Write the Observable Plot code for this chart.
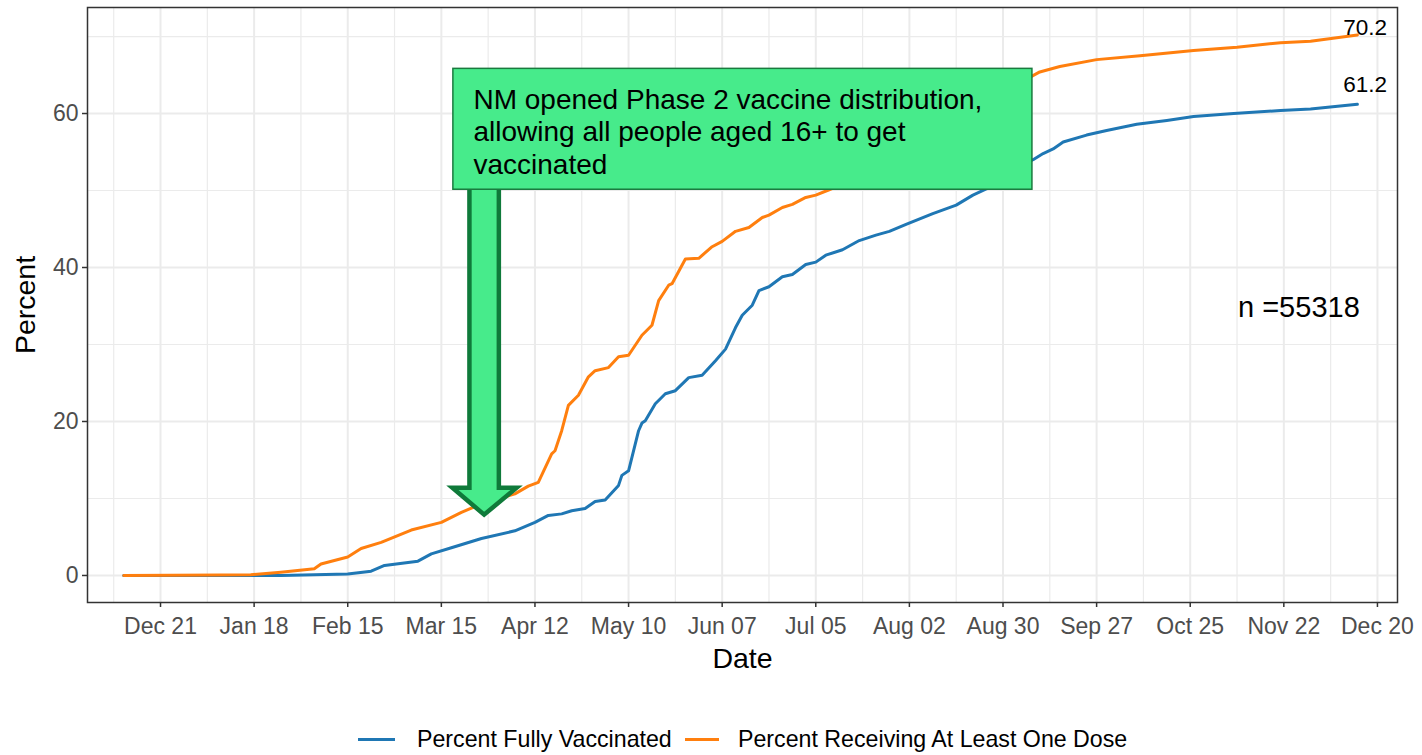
<!DOCTYPE html>
<html>
<head>
<meta charset="utf-8">
<script src="https://cdn.jsdelivr.net/npm/d3@7"></script>
<script src="https://cdn.jsdelivr.net/npm/@observablehq/plot@0.6"></script>
<style>
  body { margin: 0; background: #fff; font-family: "Liberation Sans", Arial, sans-serif; }
  #wrap { position: relative; width: 1422px; }
  #legend { position: relative; width: 1422px; height: 50px; }
  #legend .key { position: absolute; height: 3px; top: 32.5px; }
  #legend .lab { position: absolute; top: 22px; font-size: 23.2px; line-height: 24px; color: #000; white-space: nowrap; }
</style>
</head>
<body>
<div id="wrap"><div id="chart"></div><div id="legend"></div></div>
<script>
// ---------- data ----------
const seriesNames = ["Percent Fully Vaccinated", "Percent Receiving At Least One Dose"];
const seriesColors = ["#1f77b4", "#ff7f0e"];

const fullyDates = [
  "2020-12-10","2021-01-26","2021-02-15","2021-02-22","2021-02-26","2021-03-08","2021-03-12","2021-03-18",
  "2021-03-27","2021-04-06","2021-04-12","2021-04-16","2021-04-20","2021-04-23","2021-04-27","2021-04-30",
  "2021-05-03","2021-05-07","2021-05-08","2021-05-10","2021-05-13","2021-05-14","2021-05-15","2021-05-18",
  "2021-05-21","2021-05-24","2021-05-28","2021-06-01","2021-06-05","2021-06-08","2021-06-11","2021-06-13",
  "2021-06-16","2021-06-18","2021-06-21","2021-06-25","2021-06-28","2021-07-02","2021-07-05","2021-07-08",
  "2021-07-13","2021-07-18","2021-07-23","2021-07-27","2021-08-01","2021-08-09","2021-08-16","2021-08-21",
  "2021-08-25","2021-08-31","2021-09-04","2021-09-08","2021-09-11","2021-09-14","2021-09-17","2021-09-24",
  "2021-09-30","2021-10-09","2021-10-18","2021-10-26","2021-11-07","2021-11-21","2021-11-30","2021-12-14"
];
const fullyValues = [
  0, 0, 0.2, 0.56, 1.3, 1.86, 2.8, 3.6,
  4.8, 5.8, 6.9, 7.8, 8.0, 8.4, 8.7, 9.6,
  9.8, 11.7, 13.0, 13.6, 18.8, 19.8, 20.1, 22.3,
  23.6, 24.0, 25.7, 26.0, 27.9, 29.4, 32.2, 33.8,
  35.1, 37.0, 37.5, 38.8, 39.1, 40.4, 40.7, 41.6,
  42.3, 43.5, 44.2, 44.7, 45.6, 47.0, 48.1, 49.4,
  50.2, 52.0, 53.2, 54.0, 54.8, 55.4, 56.3, 57.2,
  57.8, 58.6, 59.1, 59.6, 60.0, 60.4, 60.6, 61.2
];

const oneDoseDates = [
  "2020-12-10","2021-01-08","2021-01-17","2021-01-26","2021-02-05","2021-02-07","2021-02-15","2021-02-19",
  "2021-02-25","2021-03-06","2021-03-15","2021-03-21","2021-03-27","2021-04-06","2021-04-10","2021-04-13",
  "2021-04-17","2021-04-18","2021-04-20","2021-04-22","2021-04-25","2021-04-28","2021-04-30","2021-05-04",
  "2021-05-07","2021-05-10","2021-05-14","2021-05-17","2021-05-19","2021-05-22","2021-05-23","2021-05-27",
  "2021-05-31","2021-06-04","2021-06-07","2021-06-11","2021-06-15","2021-06-19","2021-06-21","2021-06-25",
  "2021-06-28","2021-07-02","2021-07-05","2021-07-09","2021-07-22","2021-08-05","2021-08-20","2021-08-31",
  "2021-09-07","2021-09-10","2021-09-16","2021-09-27","2021-10-10","2021-10-26","2021-11-08","2021-11-21",
  "2021-11-30","2021-12-14"
];
const oneDoseValues = [
  0, 0.05, 0.1, 0.43, 0.87, 1.5, 2.4, 3.5,
  4.3, 5.9, 6.9, 8.2, 9.3, 10.6, 11.6, 12.1,
  15.8, 16.2, 18.8, 22.1, 23.4, 25.8, 26.6, 27.0,
  28.4, 28.6, 31.2, 32.5, 35.7, 37.7, 37.9, 41.1,
  41.2, 42.7, 43.4, 44.7, 45.2, 46.5, 46.8, 47.8,
  48.2, 49.1, 49.4, 50.1, 52.5, 56.0, 59.8, 62.5,
  64.7, 65.4, 66.1, 67.0, 67.5, 68.2, 68.6, 69.2,
  69.4, 70.2
];

const tickDates = ["2020-12-21","2021-01-18","2021-02-15","2021-03-15","2021-04-12","2021-05-10","2021-06-07",
  "2021-07-05","2021-08-02","2021-08-30","2021-09-27","2021-10-25","2021-11-22","2021-12-20"];
const yTicks = [0, 20, 40, 60];
const xTitle = "Date";
const yTitle = "Percent";
const annotationText = "NM opened Phase 2 vaccine distribution,\nallowing all people aged 16+ to get\nvaccinated";
const nLabel = "n =55318";

// annotation geometry (days after 2020-12-21, percent)
const boxDays = [87.6, 260.8];
const boxValues = [50.1, 65.8];
const arrowDays = [92.4, 92.4, 87.3, 96.8, 106.5, 101.2, 101.2, 92.4];
const arrowValues = [53, 11.4, 11.4, 7.9, 11.4, 11.4, 53, 53];

// ---------- build ----------
const DAY0 = Date.UTC(2020, 11, 21);
const day = n => new Date(DAY0 + n * 864e5);
const parse = s => new Date(s + "T00:00:00Z");

const rows = [
  ...fullyDates.map((d, i) => ({date: parse(d), value: fullyValues[i], series: seriesNames[0]})),
  ...oneDoseDates.map((d, i) => ({date: parse(d), value: oneDoseValues[i], series: seriesNames[1]}))
];
const majorX = tickDates.map(parse);
const minorX = majorX.map(d => new Date(+d - 14 * 864e5));
const minorY = yTicks.map(v => v + 10);

const lastFully = {date: parse(fullyDates[fullyDates.length - 1]), value: fullyValues[fullyValues.length - 1]};
const lastOne = {date: parse(oneDoseDates[oneDoseDates.length - 1]), value: oneDoseValues[oneDoseValues.length - 1]};
const endLabels = [
  {x: new Date(+lastFully.date + 2.3 * 864e5), y: lastFully.value + 2.5, text: lastFully.value.toFixed(1)},
  {x: new Date(+lastOne.date + 2.3 * 864e5), y: lastOne.value + 0.94, text: lastOne.value.toFixed(1)}
];
const arrow = arrowDays.map((d, i) => ({x: day(d), y: arrowValues[i]}));

const H = 705;
const chart = Plot.plot({
  width: 1422,
  height: H,
  marginLeft: 87,
  marginRight: 25,
  marginTop: 7,
  marginBottom: H - 602,
  style: {fontFamily: "'Liberation Sans', Arial, sans-serif", background: "white", overflow: "visible"},
  x: {type: "utc", domain: [day(-21.84), day(370)]},
  y: {domain: [-3.51, 73.77]},
  color: {domain: seriesNames, range: seriesColors},
  marks: [
    Plot.ruleX(minorX, {stroke: "#ebebeb", strokeWidth: 1.2}),
    Plot.ruleY(minorY, {stroke: "#ebebeb", strokeWidth: 1.2}),
    Plot.ruleX(majorX, {stroke: "#ebebeb", strokeWidth: 2}),
    Plot.ruleY(yTicks, {stroke: "#ebebeb", strokeWidth: 2}),
    Plot.line(rows, {x: "date", y: "value", z: "series", stroke: "series", strokeWidth: 3, strokeLinejoin: "round"}),
    Plot.line(arrow, {x: "x", y: "y", fill: "#47eb8b", stroke: "#0f7a3a", strokeWidth: 4.5,
      strokeLinejoin: "miter", strokeMiterlimit: 10}),
    Plot.rect([{x1: day(boxDays[0]), x2: day(boxDays[1]), y1: boxValues[0], y2: boxValues[1]}],
      {x1: "x1", x2: "x2", y1: "y1", y2: "y2", fill: "#47eb8b", stroke: "#1a7a3e", strokeWidth: 1.5}),
    Plot.text([{x: day(93.6), y: 63.62, text: annotationText}],
      {x: "x", y: "y", text: "text", textAnchor: "start", lineAnchor: "top", lineHeight: 1.16, fontSize: 28, fill: "#000"}),
    Plot.text([{x: day(340.5), y: 34.8, text: nLabel}],
      {x: "x", y: "y", text: "text", textAnchor: "middle", fontSize: 29, fill: "#000"}),
    Plot.text(endLabels, {x: "x", y: "y", text: "text", textAnchor: "middle", fontSize: 22.5, fill: "#000"}),
    Plot.frame({stroke: "#333", strokeWidth: 1.5}),
    Plot.axisX({ticks: majorX, tickFormat: d3.utcFormat("%b %d"), tickSize: 5, tickPadding: 10,
      fontSize: 23, label: null, stroke: "#333", strokeWidth: 1.5, fill: "#4d4d4d"}),
    Plot.axisY({ticks: yTicks, tickSize: 5, tickPadding: 4, fontSize: 23, label: null,
      stroke: "#333", strokeWidth: 1.5, fill: "#4d4d4d"}),
    Plot.text([xTitle], {frameAnchor: "bottom", lineAnchor: "middle", textAnchor: "middle", dy: 56, fontSize: 28.5, fill: "#000"}),
    Plot.text([yTitle], {frameAnchor: "left", lineAnchor: "middle", textAnchor: "middle", dx: -62, rotate: -90, fontSize: 28.5, fill: "#000"})
  ]
});
document.getElementById("chart").appendChild(chart);

// legend (below the SVG)
const legend = document.getElementById("legend");
const keyPos = [{kx: 358, kw: 37, tx: 417}, {kx: 685, kw: 34, tx: 738}];
seriesNames.forEach((name, i) => {
  const k = document.createElement("div");
  k.className = "key";
  k.style.left = keyPos[i].kx + "px";
  k.style.width = keyPos[i].kw + "px";
  k.style.background = seriesColors[i];
  legend.appendChild(k);
  const t = document.createElement("span");
  t.className = "lab";
  t.style.left = keyPos[i].tx + "px";
  t.textContent = name;
  legend.appendChild(t);
});
</script>
</body>
</html>
